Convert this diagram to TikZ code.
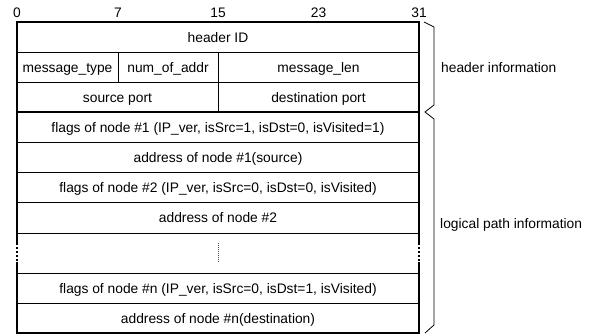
\documentclass[tikz,border=0pt]{standalone}
\usepackage{fontspec}
\setmainfont{Liberation Sans}
\begin{document}
\begin{tikzpicture}[x=1pt,y=-1pt,
  lbl/.style={inner sep=0pt, anchor=base, font=\fontsize{13.8}{16}\selectfont},
  side/.style={lbl, anchor=base west},
  outer/.style={line width=1.8pt, line cap=rect},
  sep/.style={line width=0.9pt},
  thicksep/.style={line width=1.8pt},
  brace/.style={line width=0.8pt, line join=miter}]
\useasboundingbox (0,0) rectangle (593,336);
% bit numbers
\node[lbl] (b0)  at (17,17.3)  {0};
\node[lbl] (b7)  at (118,17.3) {7};
\node[lbl] (b15) at (218,17.3) {15};
\node[lbl] (b23) at (318.5,17.3) {23};
\node[lbl] (b31) at (419,17.3) {31};
% horizontal separators
\draw[sep] (17,52) -- (419,52);
\draw[sep] (17,82) -- (419,82);
\draw[thicksep] (17,112) -- (419,112);
\foreach \yy in {142,172,202.5,233,273,303}
  \draw[sep] (17,\yy) -- (419,\yy);
% vertical separators
\draw[sep] (118,52) -- (118,82);
\draw[sep] (218,52) -- (218,112);
% outer border
\draw[outer] (17,243) -- (17,22) -- (419,22) -- (419,243);
\draw[outer] (17,263) -- (17,333) -- (419,333) -- (419,263);
\draw[line width=1.8pt, dash pattern=on 2pt off 2pt] (17,243) -- (17,263);
\draw[line width=1.8pt, dash pattern=on 2pt off 2pt] (419,243) -- (419,263);
% middle dots
\draw[line width=0.8pt, black!70, dash pattern=on 1pt off 1pt] (218,243) -- (218,262);
% field texts
\node[lbl] (hid)  at (218,42.5) {header ID};
\node[lbl] (mt)   at (67.5,72.5) {message\_type};
\node[lbl] (noa)  at (168,72.5) {num\_of\_addr};
\node[lbl] (ml)   at (318.5,72.5) {message\_len};
\node[lbl] (sp)   at (117.5,102.5) {source port};
\node[lbl] (dp)   at (318.5,102.5) {destination port};
\node[lbl] (f1)   at (218,132.5) {flags of node \#1 (IP\_ver, isSrc=1, isDst=0, isVisited=1)};
\node[lbl] (a1)   at (218,162.5) {address of node \#1(source)};
\node[lbl] (f2)   at (218,192.5) {flags of node \#2 (IP\_ver, isSrc=0, isDst=0, isVisited)};
\node[lbl] (a2)   at (218,223) {address of node \#2};
\node[lbl] (fn)   at (218,293.5) {flags of node \#n (IP\_ver, isSrc=0, isDst=1, isVisited)};
\node[lbl] (an)   at (218,323.5) {address of node \#n(destination)};
% braces
\draw[brace] (424,22) -- (434,27) -- (434,105) -- (425,112) -- (434,119) -- (434,325) -- (425,333);
\node[side] (hi) at (441,72.5) {header information};
\node[side] (lpi) at (440,228.5) {logical path information};
\end{tikzpicture}
\end{document}
